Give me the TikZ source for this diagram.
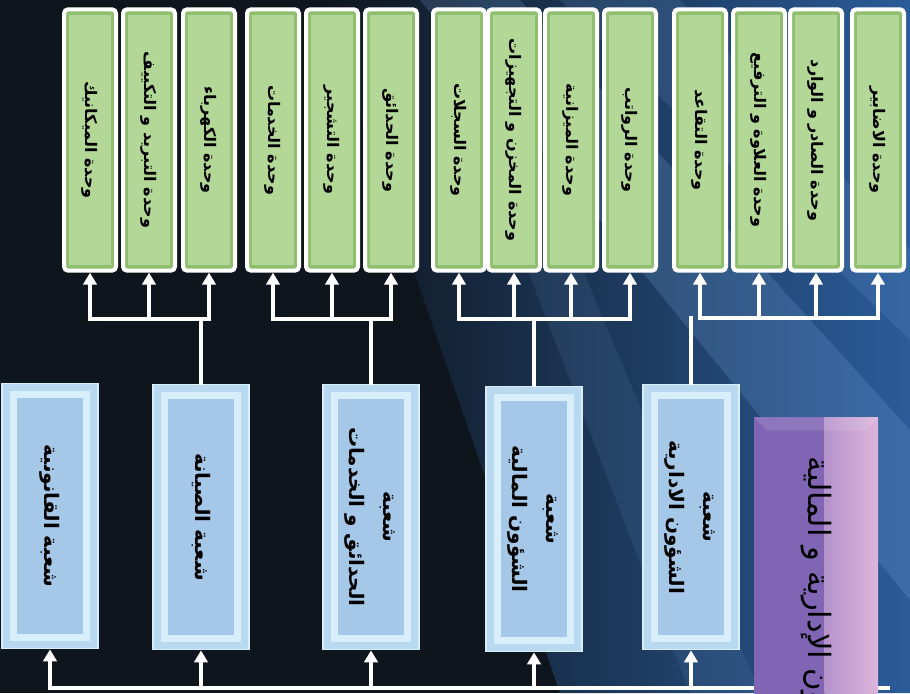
\documentclass[tikz,border=0pt]{standalone}
\usepackage{fontspec}
\newfontfamily\arabicfont[Script=Arabic]{DejaVu Sans}
\TeXXeTstate=1
\usetikzlibrary{arrows.meta,positioning}

\definecolor{bgdark}{HTML}{0F151D}
\definecolor{bgblue}{HTML}{2A5C99}
\definecolor{streak}{HTML}{7FB0E6}
\definecolor{gedge}{HTML}{8FBE6F}
\definecolor{gin}{HTML}{B2D797}
\definecolor{bedge}{HTML}{D8EEFB}
\definecolor{bout}{HTML}{B9D9F1}
\definecolor{bin}{HTML}{A6C8E8}
\definecolor{deptc}{HTML}{8065B4}
\definecolor{deptr}{HTML}{DDB5DC}

% vertical arabic labels
\newcommand\vtext[1]{\rotatebox{-90}{\arabicfont\bfseries\beginR #1\endR}}
\newcommand\vtwo[2]{\rotatebox{-90}{\arabicfont\bfseries
  \begin{tabular}{@{}c@{}}#1\\[9pt]#2\end{tabular}}}

\begin{document}
\begin{tikzpicture}[x=0.75pt,y=-0.75pt,
  unitbox/.style={draw=white,line width=3pt,rounded corners=3pt,fill=gedge,
    minimum width=39pt,minimum height=196pt,inner sep=0pt,font=\fontsize{12}{14}\selectfont,
    path picture={\fill[gin,sharp corners] ([shift={(4pt,4pt)}]path picture bounding box.south west)
      rectangle ([shift={(-4pt,-4pt)}]path picture bounding box.north east);}},
  sectbox/.style={draw=bedge,line width=1pt,fill=bout,
    minimum width=72pt,minimum height=199pt,inner sep=0pt,font=\fontsize{15}{17}\selectfont,
    path picture={\fill[bedge] ([shift={(6pt,6pt)}]path picture bounding box.south west)
      rectangle ([shift={(-6pt,-6pt)}]path picture bounding box.north east);
      \fill[bin] ([shift={(11pt,11pt)}]path picture bounding box.south west)
      rectangle ([shift={(-11pt,-11pt)}]path picture bounding box.north east);}},
  deptbox/.style={fill=deptc,minimum width=93pt,minimum height=292pt,inner sep=0pt,
    font=\fontsize{23}{27}\selectfont,
    path picture={\shade[left color=deptc,right color=deptr]
      ([xshift=-40pt]path picture bounding box.north east) rectangle (path picture bounding box.south east);
      \fill[white,opacity=.12] (path picture bounding box.north west) -- (path picture bounding box.north east)
      -- ([shift={(-10pt,-10pt)}]path picture bounding box.north east) -- ([shift={(10pt,-10pt)}]path picture bounding box.north west) -- cycle;}},
  wire/.style={white,line width=2.4pt,line cap=rect},
  up/.style={white,line width=2.4pt,-{Triangle[width=10pt,length=9pt]}}]
\useasboundingbox (0,0) rectangle (910,693);
\clip (0,0) rectangle (910,693);

% background
\fill[bgdark] (0,0) rectangle (910,693);
\shade[left color=bgdark,right color=bgblue] (320,0) -- (910,0) -- (910,693) -- (560,693) -- cycle;
\fill[streak,opacity=.2] (420,0) -- (520,0) -- (910,430) -- (910,600) -- cycle;
\fill[streak,opacity=.14] (560,0) -- (680,0) -- (910,250) -- (910,340) -- cycle;
\fill[streak,opacity=.1] (470,120) -- (520,120) -- (760,693) -- (690,693) -- cycle;

% units
\foreach \n/\x/\t in {1/90/{وحدة الميكانيك},2/149/{وحدة التبريد و التكييف},3/209/{وحدة الكهرباء},
  4/273/{وحدة الخدمات},5/332/{وحدة التشجير},6/391/{وحدة الحدائق},
  7/459/{وحدة السجلات},8/514/{وحدة المخزن و التجهيزات},9/571/{وحدة الميزانية},10/630/{وحدة الرواتب},
  11/700/{وحدة التقاعد},12/759/{وحدة العلاوة و الترفيع},13/816/{وحدة الصادر و الوارد},14/878/{وحدة الاضابير}}
  \node[unitbox] (g\n) at (\x,140) {\vtext{\t}};

% sections
\node[sectbox] (b1) at (50,516) {\vtext{شعبة القانونية}};
\node[sectbox] (b2) at (201,517) {\vtext{شعبة الصيانة}};
\node[sectbox] (b3) at (371,517) {\vtwo{\beginR شعبة\endR}{\beginR الحدائق و الخدمات\endR}};
\node[sectbox] (b4) at (534,519) {\vtwo{\beginR شعبة\endR}{\beginR الشؤون المالية\endR}};
\node[sectbox] (b5) at (691,517) {\vtwo{\beginR شعبة\endR}{\beginR الشؤون الادارية\endR}};

% section -> units
\coordinate (j1) at (b2.north |- 0,319);
\coordinate (j2) at (b3.north |- 0,319);
\coordinate (j3) at (b4.north |- 0,319);
\coordinate (j4) at (b5.north |- 0,318);
\draw[wire] (b2.north) -- (j1);
\draw[wire] (b3.north) -- (j2);
\draw[wire] (b4.north) -- (j3);
\draw[wire] (b5.north) -- (j4);
\draw[wire] (g1.south |- j1) -- (g3.south |- j1);
\draw[wire] (g4.south |- j2) -- (g6.south |- j2);
\draw[wire] (g7.south |- j3) -- (g10.south |- j3);
\draw[wire] (g11.south |- j4) -- (g14.south |- j4);
\foreach \g in {1,2,3} \draw[up] (g\g.south |- j1) -- (g\g.south);
\foreach \g in {4,5,6} \draw[up] (g\g.south |- j2) -- (g\g.south);
\foreach \g in {7,8,9,10} \draw[up] (g\g.south |- j3) -- (g\g.south);
\foreach \g in {11,12,13,14} \draw[up] (g\g.south |- j4) -- (g\g.south);

% department -> sections
\coordinate (root) at (888,688);
\draw[wire] (root) -- (b1.south |- root);
\foreach \b in {1,...,5} \draw[up] (b\b.south |- root) -- (b\b.south);

\node[deptbox] (dept) at (816,612) {\rotatebox{-90}{\arabicfont\beginR الشؤون الإدارية و المالية\endR}};
\end{tikzpicture}
\end{document}
